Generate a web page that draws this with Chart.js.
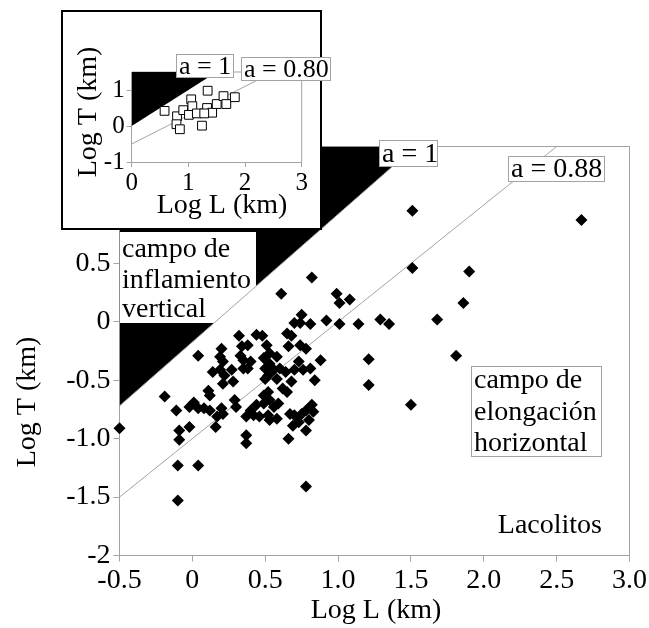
<!DOCTYPE html>
<html><head><meta charset="utf-8">
<script src="https://cdn.jsdelivr.net/npm/chart.js@4.4.1/dist/chart.umd.min.js"></script>
<style>
html,body{margin:0;padding:0;background:#fff;}
#wrap{position:relative;width:649px;height:628px;overflow:hidden;}
#main{position:absolute;left:0;top:0;}
#inset{position:absolute;left:50px;top:0;}
</style></head><body>
<div id="wrap"><canvas id="main" width="649" height="628"></canvas><canvas id="inset" width="300" height="240"></canvas></div>
<script>
// ---- main chart data (Log L, Log T in km) ----
const lacolitoL = [
 2.67,1.51,1.51,1.90,1.86,1.68,1.81,1.21,1.21,1.50,
 0.82,0.61,0.99,1.01,1.08,0.75,0.92,1.01,1.14,1.29,
 1.35,0.70,0.74,0.81,-0.50,-0.19,-0.10,0.04,-0.10,0.78,
 0.32,0.44,0.48,0.65,0.68,0.04,0.20,0.34,0.38,0.51,
 0.53,0.66,0.74,0.78,0.19,0.21,0.33,0.35,0.40,0.49,
 0.53,0.58,0.14,0.19,0.22,0.27,0.35,0.38,0.50,0.52,
 0.56,0.60,0.64,0.70,0.73,0.76,0.81,0.88,0.21,0.28,
 0.50,0.58,0.68,0.84,0.11,0.12,0.62,0.65,0.52,0.49,
 0.01,-0.02,-0.11,0.04,0.08,0.12,0.20,0.21,0.29,0.30,
 0.40,0.44,0.49,0.53,0.56,0.59,0.37,0.42,0.46,0.52,
 0.53,0.58,0.67,0.70,0.75,0.78,0.82,0.83,0.80,0.17,
 0.16,-0.02,-0.09,-0.09,0.69,0.73,0.78,0.37,0.37,0.66];
const lacolitoT = [
 0.87,0.95,0.46,0.43,0.16,0.02,-0.29,-0.32,-0.54,-0.71,
 0.38,0.24,0.24,0.16,0.19,0.06,0.01,-0.02,-0.02,0.02,
 -0.02,-0.01,-0.01,-0.02,-0.91,-0.64,-1.23,-1.23,-1.53,-1.41,
 -0.12,-0.11,-0.12,-0.10,-0.12,-0.29,-0.23,-0.21,-0.20,-0.20,
 -0.27,-0.21,-0.20,-0.23,-0.30,-0.34,-0.29,-0.33,-0.34,-0.31,
 -0.36,-0.30,-0.43,-0.41,-0.46,-0.41,-0.40,-0.40,-0.40,-0.46,
 -0.41,-0.40,-0.43,-0.41,-0.34,-0.41,-0.40,-0.33,-0.53,-0.51,
 -0.49,-0.49,-0.51,-0.50,-0.59,-0.63,-0.57,-0.60,-0.60,-0.63,
 -0.69,-0.73,-0.76,-0.74,-0.74,-0.76,-0.74,-0.79,-0.67,-0.73,
 -0.76,-0.71,-0.70,-0.67,-0.73,-0.70,-0.81,-0.80,-0.81,-0.80,
 -0.84,-0.83,-0.79,-0.80,-0.79,-0.76,-0.71,-0.77,-0.84,-0.81,
 -0.90,-0.90,-0.93,-1.01,-0.89,-0.86,-0.93,-0.97,-1.04,-1.00];
const fieldLineL = [-0.5, 1.53];   // a = 1 boundary
const fieldLineT = [-0.72, 1.5];
const fitLineL = [-0.5, 2.5];      // a = 0.88
const fitLineT = [-1.5, 1.5];
const xTickVals = [-0.5,0,0.5,1,1.5,2,2.5,3];
const xTickLabels = ['-0.5','0','0.5','1.0','1.5','2.0','2.5','3.0'];
const yTickVals = [-2,-1.5,-1,-0.5,0,0.5];
const yTickLabels = ['-2','-1.5','-1.0','-0.5','0','0.5'];

// ---- inset data ----
const insetL = [0.58,0.80,0.91,1.05,1.07,1.01,1.15,0.79,0.85,1.24,1.34,1.33,1.42,1.50,1.62,1.67,1.82,1.28];
const insetT = [0.42,0.27,0.44,0.74,0.55,0.31,0.35,0.05,-0.09,0.01,0.98,0.50,0.37,0.61,0.83,0.61,0.80,0.35];
const insetFieldL = [0, 1.5];
const insetFieldT = [0, 1.5];
const insetFitL = [0, 2.5];
const insetFitT = [-0.5, 1.5];
const insetXTickVals = [0,1,2,3];
const insetXTickLabels = ['0','1','2','3'];
const insetYTickVals = [-1,0,1];
const insetYTickLabels = ['-1','0','1'];

const FONT = "'Liberation Serif','Times New Roman',serif";
const GRAY = '#a3a3a3';
const zip = (xs, ys) => xs.map((x, i) => ({x: x, y: ys[i]}));

function axis(min, max, vals, labels, size, fontSize, isX, tickLen, pad) {
  return {
    type: 'linear', min: min, max: max,
    afterBuildTicks: s => { s.ticks = vals.map(v => ({value: v})); },
    afterFit: s => { if (isX) s.height = size; else s.width = size; },
    ticks: {callback: (v, i) => labels[i], color: '#000', font: {family: FONT, size: fontSize},
            padding: pad, maxRotation: 0, autoSkip: false},
    grid: {display: true, drawOnChartArea: false, drawTicks: true, tickLength: tickLen, color: GRAY, lineWidth: 1},
    border: {display: true, color: GRAY, width: 1}
  };
}

function box(ctx, x1, y1, x2, y2, stroke) {
  ctx.fillStyle = '#fff';
  ctx.fillRect(x1, y1, x2 - x1, y2 - y1);
  if (stroke) { ctx.strokeStyle = stroke; ctx.lineWidth = 1; ctx.strokeRect(x1, y1, x2 - x1, y2 - y1); }
}
function text(ctx, s, x, y, size, align) {
  ctx.fillStyle = '#000';
  ctx.font = size + 'px ' + FONT;
  ctx.textAlign = align || 'left';
  ctx.textBaseline = 'alphabetic';
  ctx.fillText(s, x, y);
}

const mainDeco = {
  id: 'mainDeco',
  beforeDatasetsDraw(chart) {
    const {ctx, chartArea: a} = chart;
    ctx.save(); ctx.strokeStyle = GRAY; ctx.lineWidth = 1;
    ctx.beginPath(); ctx.moveTo(a.left, a.top); ctx.lineTo(a.right, a.top); ctx.lineTo(a.right, a.bottom); ctx.stroke();
    ctx.restore();
  },
  beforeDatasetDraw(chart, args) {
    if (args.index === 2) {
      const ctx = chart.ctx; ctx.save();
      box(ctx, 120, 232, 256, 323, null);
      ctx.restore();
    }
  },
  afterDatasetsDraw(chart) {
    const ctx = chart.ctx; ctx.save();
    text(ctx, 'campo de', 122, 257, 28);
    text(ctx, 'inflamiento', 122, 288, 28);
    text(ctx, 'vertical', 122, 317, 28);
    box(ctx, 379.5, 140.5, 437.5, 166.5, GRAY);
    text(ctx, 'a = 1', 382, 162, 28);
    box(ctx, 508.5, 156.5, 604.5, 181.5, GRAY);
    text(ctx, 'a = 0.88', 511, 177, 28);
    box(ctx, 471.5, 366.5, 601.5, 456.5, GRAY);
    text(ctx, 'campo de', 474, 388, 28);
    text(ctx, 'elongación', 474, 420, 28);
    text(ctx, 'horizontal', 474, 451, 28);
    text(ctx, 'Lacolitos', 602, 533, 28, 'right');
    ctx.restore();
  },
  afterDraw(chart) {
    const ctx = chart.ctx; ctx.save();
    text(ctx, 'Log L (km)', 376, 618, 28, 'center');
    ctx.translate(35, 402); ctx.rotate(-Math.PI / 2);
    text(ctx, 'Log T (km)', 0, 0, 28, 'center');
    ctx.restore();
  }
};

new Chart(document.getElementById('main'), {
  type: 'scatter',
  data: {datasets: [
    {type: 'scatter', data: zip(lacolitoL, lacolitoT), pointStyle: 'rectRot', pointRadius: 6,
     backgroundColor: '#000', borderColor: '#000', borderWidth: 0, clip: false},
    {type: 'line', data: zip(fitLineL, fitLineT), borderColor: GRAY, borderWidth: 1, pointRadius: 0, fill: false},
    {type: 'line', data: zip(fieldLineL, fieldLineT), borderColor: GRAY, borderWidth: 1, pointRadius: 0, fill: false},
    {type: 'line', data: zip(fieldLineL, fieldLineT), borderWidth: 0, borderColor: 'rgba(0,0,0,0)', pointRadius: 0,
     fill: 'end', backgroundColor: '#000'}
  ]},
  options: {
    responsive: false, animation: false, devicePixelRatio: 1,
    layout: {padding: {top: 146.5, right: 19.5, left: 0, bottom: 0}},
    plugins: {legend: {display: false}, tooltip: {enabled: false}},
    scales: {
      x: axis(-0.5, 3, xTickVals, xTickLabels, 72.5, 28, true, 6, 2),
      y: axis(-2, 1.5, yTickVals, yTickLabels, 119.5, 28, false, 6, 3)
    }
  },
  plugins: [mainDeco]
});

const insetDeco = {
  id: 'insetDeco',
  beforeDraw(chart) {
    const ctx = chart.ctx; ctx.save();
    ctx.fillStyle = '#fff'; ctx.fillRect(11, 10, 261, 220);
    ctx.strokeStyle = '#000'; ctx.lineWidth = 2; ctx.strokeRect(12, 11, 259, 218);
    ctx.restore();
  },
  beforeDatasetsDraw(chart) {
    const {ctx, chartArea: a} = chart;
    ctx.save(); ctx.strokeStyle = GRAY; ctx.lineWidth = 1;
    ctx.beginPath(); ctx.moveTo(a.left, a.top); ctx.lineTo(a.right, a.top); ctx.lineTo(a.right, a.bottom); ctx.stroke();
    ctx.restore();
  },
  afterDatasetsDraw(chart) {
    const ctx = chart.ctx; ctx.save();
    box(ctx, 126.5, 54.5, 183.5, 77.5, GRAY);
    text(ctx, 'a = 1', 129, 74, 26);
    box(ctx, 191.5, 57.5, 280.5, 80.5, GRAY);
    text(ctx, 'a = 0.80', 194, 77, 26);
    ctx.restore();
  },
  afterDraw(chart) {
    const ctx = chart.ctx; ctx.save();
    text(ctx, 'Log L (km)', 172, 213, 28, 'center');
    ctx.translate(46, 112); ctx.rotate(-Math.PI / 2);
    text(ctx, 'Log T (km)', 0, 0, 28, 'center');
    ctx.restore();
  }
};

new Chart(document.getElementById('inset'), {
  type: 'scatter',
  data: {datasets: [
    {type: 'scatter', data: zip(insetL, insetT), pointStyle: 'rect', pointRadius: 6.2,
     backgroundColor: '#fff', borderColor: '#000', borderWidth: 1},
    {type: 'line', data: zip(insetFitL, insetFitT), borderColor: GRAY, borderWidth: 1, pointRadius: 0, fill: false},
    {type: 'line', data: zip(insetFieldL, insetFieldT), borderWidth: 0, borderColor: 'rgba(0,0,0,0)', pointRadius: 0,
     fill: 'end', backgroundColor: '#000'}
  ]},
  options: {
    responsive: false, animation: false, devicePixelRatio: 1,
    layout: {padding: {top: 72, right: 48.3, left: 0, bottom: 0}},
    plugins: {legend: {display: false}, tooltip: {enabled: false}},
    scales: {
      x: axis(0, 3, insetXTickVals, insetXTickLabels, 78, 25, true, 5, 1),
      y: axis(-1, 1.5, insetYTickVals, insetYTickLabels, 81.7, 25, false, 5, 2)
    }
  },
  plugins: [insetDeco]
});
</script>
</body></html>
